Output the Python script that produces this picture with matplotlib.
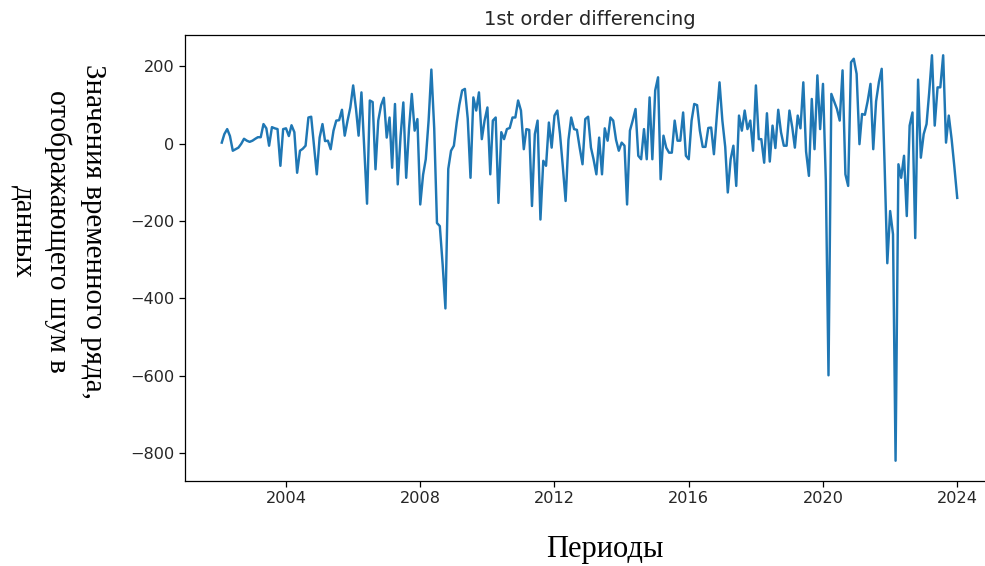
import matplotlib
matplotlib.use("Agg")
import matplotlib.pyplot as plt
import pandas as pd
import numpy as np

start_month = "2002-02-01"
diff_values = [
    3, 25, 38, 20, -18, -14, -10, 0, 13, 8, 5, 8, 13, 17, 17, 51, 40, -5, 43, 40,
    38, -57, 38, 40, 20, 48, 30, -75, -18, -13, -5, 68,
    70, -5, -79, 16, 51, 7, 8, -14, 34, 60, 61, 88, 21, 60, 94, 151, 90, 21,
    133, -10, -155, 112, 108, -66, 60, 100, 119, 16, 68, -62, 103, -105, 20, 107, -88,
    40, 129, 34, 64, -157, -80, -40, 60, 192, 40, -205, -213, -313, -426, -65, -18,
    -5, 55, 100, 138, 142, 65, -88, 120, 86, 133, 12, 60, 94, -79, 60, 68, -153, 30,
    12, 38, 41, 68, 68, 112, 86, -14, 38, 36, -161, 25, 60, -196, -44, -57, 55, -10,
    73, 86, 25, -60, -148, 10, 68, 38, 36, -10, -53, 64, 70, -10, -40, -79, 16,
    -79, 40, 8, 68, 60, 10, -18, 3, -5, -157, 34, 60, 90, -31, -40, 38, -40, 120,
    -40, 138, 172, -92, 21, -10, -23, -23, 60, 8, 8, 81, -31, -40, 60, 103,
    100, 34, -8, -8, 41, 42, -27, 70, 159, 60, -8, -126, -40, -5, -109, 73, 34, 86,
    38, 60, -18, 151, 12, 12, -49, 79, -46, 47, -11, 88, 30, -5, -5, 86,
    42, -10, 73, 40, 159, -20, -83, 116, -14, 177, 38, 155, -96, -599, 129, 110, 90,
    60, 190, -79, -109, 211, 220, 181, -1, 77, 75, 110, 155, -14, 110, 160, 194,
    -50, -309, -174, -234, -820, -53, -88, -31, -187, 47, 81, -244, 166, -36, 25,
    51, 130, 229, 47, 146, 146, 229, 3, 73, 12, -60, -140,
]
dates = pd.date_range(start_month, periods=len(diff_values), freq="MS")

title_text = "1st order differencing"
ylabel_text = "Значения временного ряда,\nотображающего шум в\nданных"
xlabel_text = "Периоды"

W, H = 985, 566
fig = plt.figure(figsize=(W / 100, H / 100), dpi=100)
ax = fig.add_axes([185 / W, 1 - 481 / H, (994 - 185) / W, (481 - 35) / H])
ax.plot(dates, diff_values, color="#1f77b4", linewidth=1.75)
ax.set_title(title_text, fontsize=14, pad=7, color="#262626")
ax.tick_params(labelsize=11.6, length=4, width=0.9, labelcolor="#262626")
for s in ax.spines.values():
    s.set_linewidth(0.9)
ax.spines["right"].set_visible(False)
ax.set_yticks([200, 0, -200, -400, -600, -800])

fig.text(58 / W, 1 - 231 / H, ylabel_text, rotation=270, ha="center", va="center",
         multialignment="center", fontsize=21, family=["Liberation Serif", "DejaVu Serif"],
         linespacing=1.4)
fig.text(605 / W, 1 - 550 / H, xlabel_text, ha="center", va="center",
         fontsize=22, family=["Liberation Serif", "DejaVu Serif"])

fig.savefig("out.png", dpi=100)
